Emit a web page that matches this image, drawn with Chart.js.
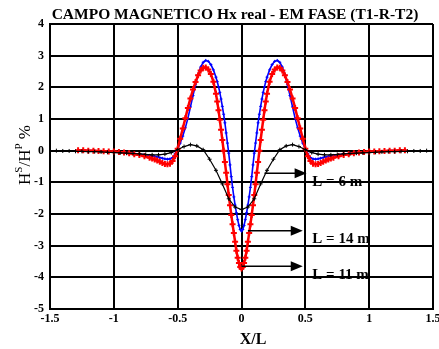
<!DOCTYPE html>
<html>
<head>
<meta charset="utf-8">
<script src="https://cdn.jsdelivr.net/npm/chart.js@4.4.0/dist/chart.umd.min.js"></script>
<style>
html,body{margin:0;padding:0;background:#fff;}
canvas{display:block;}
</style>
</head>
<body>
<canvas id="canvas" width="439" height="349"></canvas>
<script>
// x/L positions shared by the L = 14 m and L = 11 m curves
const xFine = [
  -1.28,-1.24,-1.20,-1.16,-1.12,-1.08,-1.04,-1.00,-0.96,-0.92,-0.88,-0.84,-0.80,-0.76,-0.72,
  -0.70,-0.68,-0.66,-0.64,-0.62,-0.60,-0.58,-0.56,-0.54,-0.52,-0.50,-0.48,-0.46,-0.44,-0.42,
  -0.40,-0.38,-0.36,-0.34,-0.32,-0.30,-0.28,-0.26,-0.24,-0.22,-0.20,
  -0.19,-0.18,-0.17,-0.16,-0.15,-0.14,-0.13,-0.12,-0.11,-0.10,-0.09,-0.08,-0.07,-0.06,-0.05,-0.04,-0.03,-0.02,-0.01,
  0,
  0.01,0.02,0.03,0.04,0.05,0.06,0.07,0.08,0.09,0.10,0.11,0.12,0.13,0.14,0.15,0.16,0.17,0.18,0.19,
  0.20,0.22,0.24,0.26,0.28,0.30,0.32,0.34,0.36,0.38,0.40,0.42,0.44,0.46,0.48,0.50,
  0.52,0.54,0.56,0.58,0.60,0.62,0.64,0.66,0.68,0.70,
  0.72,0.76,0.80,0.84,0.88,0.92,0.96,1.00,1.04,1.08,1.12,1.16,1.20,1.24,1.28
];

// L = 11 m (red)
const hsL11 = [
  0.01,0.01,0.00,0.00,-0.01,-0.02,-0.03,-0.03,-0.04,-0.06,-0.08,-0.11,-0.14,-0.18,-0.22,
  -0.25,-0.28,-0.31,-0.35,-0.39,-0.42,-0.43,-0.41,-0.33,-0.18,0.06,0.38,0.70,1.02,1.35,
  1.65,1.93,2.17,2.38,2.53,2.62,2.63,2.56,2.42,2.18,1.80,
  1.55,1.28,0.98,0.66,0.34,0.00,-0.36,-0.70,-1.06,-1.40,-1.72,-2.03,-2.32,-2.60,-2.88,-3.16,-3.38,-3.55,-3.67,
  -3.72,
  -3.67,-3.55,-3.38,-3.16,-2.88,-2.60,-2.32,-2.03,-1.72,-1.40,-1.06,-0.70,-0.36,0.00,0.34,0.66,0.98,1.28,1.55,
  1.80,2.18,2.42,2.56,2.63,2.62,2.53,2.38,2.17,1.93,1.65,1.35,1.02,0.70,0.38,0.06,
  -0.18,-0.33,-0.41,-0.43,-0.42,-0.39,-0.35,-0.31,-0.28,-0.25,
  -0.22,-0.18,-0.14,-0.11,-0.08,-0.06,-0.04,-0.03,-0.03,-0.02,-0.01,0.00,0.00,0.01,0.01
];

// L = 14 m (blue)
const hsL14 = [
  0.00,0.00,0.00,0.00,-0.01,-0.01,-0.02,-0.03,-0.04,-0.05,-0.07,-0.09,-0.11,-0.13,-0.15,
  -0.17,-0.18,-0.20,-0.22,-0.24,-0.26,-0.27,-0.26,-0.22,-0.10,0.05,0.24,0.46,0.72,1.02,
  1.38,1.74,2.08,2.40,2.64,2.79,2.85,2.82,2.72,2.55,2.32,
  2.18,2.02,1.84,1.63,1.40,1.15,0.88,0.56,0.24,-0.08,-0.45,-0.82,-1.16,-1.46,-1.72,-1.96,-2.18,-2.36,-2.49,
  -2.54,
  -2.49,-2.36,-2.18,-1.96,-1.72,-1.46,-1.16,-0.82,-0.45,-0.08,0.24,0.56,0.88,1.15,1.40,1.63,1.84,2.02,2.18,
  2.32,2.55,2.72,2.82,2.85,2.79,2.64,2.40,2.08,1.74,1.38,1.02,0.72,0.46,0.24,0.05,
  -0.10,-0.22,-0.26,-0.27,-0.26,-0.24,-0.22,-0.20,-0.18,-0.17,
  -0.15,-0.13,-0.11,-0.09,-0.07,-0.05,-0.04,-0.03,-0.02,-0.01,-0.01,0.00,0.00,0.00,0.00
];

// L = 6 m (black)
const xCoarse = [
  -1.50,-1.45,-1.40,-1.35,-1.30,-1.25,-1.20,-1.15,-1.10,-1.05,-1.00,-0.95,-0.90,-0.85,-0.80,
  -0.75,-0.70,-0.65,-0.60,-0.55,-0.50,-0.45,-0.40,-0.35,-0.30,-0.25,-0.20,-0.15,-0.10,-0.05,
  0,
  0.05,0.10,0.15,0.20,0.25,0.30,0.35,0.40,0.45,0.50,0.55,0.60,0.65,0.70,0.75,
  0.80,0.85,0.90,0.95,1.00,1.05,1.10,1.15,1.20,1.25,1.30,1.35,1.40,1.45,1.50
];
const hsL6 = [
  0.00,0.00,-0.01,-0.01,-0.02,-0.02,-0.03,-0.03,-0.04,-0.05,-0.06,-0.07,-0.08,-0.09,-0.10,
  -0.12,-0.13,-0.13,-0.11,-0.06,0.03,0.13,0.19,0.15,0.03,-0.27,-0.62,-1.05,-1.52,-1.78,
  -1.86,
  -1.78,-1.52,-1.05,-0.62,-0.27,0.03,0.15,0.19,0.13,0.03,-0.06,-0.11,-0.13,-0.13,-0.12,
  -0.10,-0.09,-0.08,-0.07,-0.06,-0.05,-0.04,-0.03,-0.03,-0.02,-0.02,-0.01,-0.01,0.00,0.00
];

const xTicks = [-1.5, -1, -0.5, 0, 0.5, 1, 1.5];
const yTicks = [4, 3, 2, 1, 0, -1, -2, -3, -4, -5];

const chartTitle = 'CAMPO MAGNETICO Hx real - EM FASE (T1-R-T2)';
const xTitle = 'X/L';
const yTitleParts = [['H', false], ['S', true], ['/H', false], ['P', true], [' %', false]];

// arrows pointing from each curve to its label (data units)
const labelArrows = [
  {text: 'L = 6 m',  x0: 0.18, x1: 0.51, y: -0.71, tx: 0.555, ty: -0.98},
  {text: 'L = 14 m', x0: 0.05, x1: 0.48, y: -2.53, tx: 0.555, ty: -2.80},
  {text: 'L = 11 m', x0: 0.00, x1: 0.48, y: -3.65, tx: 0.555, ty: -3.93}
];

const SERIF = '"Liberation Serif", "DejaVu Serif", serif';

function pts(xs, ys) {
  return xs.map((x, i) => ({x: x, y: ys[i]}));
}

const textPlugin = {
  id: 'textPlugin',
  afterDraw(chart) {
    const ctx = chart.ctx;
    const xs = chart.scales.x, ys = chart.scales.y;
    ctx.save();
    ctx.fillStyle = '#000';
    ctx.strokeStyle = '#000';

    ctx.textAlign = 'center';
    ctx.textBaseline = 'middle';
    ctx.font = 'bold 15.5px ' + SERIF;
    ctx.fillText(chartTitle, 235, 15);
    ctx.font = 'bold 16px ' + SERIF;
    ctx.fillText(xTitle, 253, 340);

    // y title, rotated, with superscripts
    ctx.save();
    ctx.translate(24, 155);
    ctx.rotate(-Math.PI / 2);
    ctx.textAlign = 'left';
    ctx.textBaseline = 'alphabetic';
    let total = 0;
    yTitleParts.forEach(p => {
      ctx.font = (p[1] ? '11px ' : '17px ') + SERIF;
      total += ctx.measureText(p[0]).width;
    });
    let cx = -total / 2;
    yTitleParts.forEach(p => {
      ctx.font = (p[1] ? '11px ' : '17px ') + SERIF;
      ctx.fillText(p[0], cx, p[1] ? -2 : 6);
      cx += ctx.measureText(p[0]).width;
    });
    ctx.restore();

    // arrows + labels
    ctx.lineWidth = 1.5;
    labelArrows.forEach(a => {
      const px0 = xs.getPixelForValue(a.x0);
      const px1 = xs.getPixelForValue(a.x1);
      const py = ys.getPixelForValue(a.y);
      ctx.beginPath();
      ctx.moveTo(px0, py);
      ctx.lineTo(px1 - 10, py);
      ctx.stroke();
      ctx.beginPath();
      ctx.moveTo(px1, py);
      ctx.lineTo(px1 - 12, py - 5);
      ctx.lineTo(px1 - 12, py + 5);
      ctx.closePath();
      ctx.fill();
      ctx.font = 'bold 15px ' + SERIF;
      ctx.textAlign = 'left';
      ctx.textBaseline = 'middle';
      ctx.fillText(a.text, xs.getPixelForValue(a.tx), ys.getPixelForValue(a.ty));
    });
    ctx.restore();
  }
};

const data = {
  datasets: [
    {
      label: 'L = 6 m',
      data: pts(xCoarse, hsL6),
      borderColor: '#000',
      backgroundColor: '#000',
      borderWidth: 1.2,
      pointStyle: 'cross',
      pointRadius: 2,
      pointBorderWidth: 1,
      order: 1
    },
    {
      label: 'L = 11 m',
      data: pts(xFine, hsL11),
      borderColor: '#ff0000',
      backgroundColor: '#ff0000',
      borderWidth: 2.5,
      pointStyle: 'cross',
      pointRadius: 3,
      pointBorderWidth: 2,
      order: 2
    },
    {
      label: 'L = 14 m',
      data: pts(xFine, hsL14),
      borderColor: '#0000ff',
      backgroundColor: '#0000ff',
      borderWidth: 1.6,
      pointStyle: 'cross',
      pointRadius: 1.5,
      pointBorderWidth: 1,
      order: 3
    }
  ]
};

const tickFont = {family: SERIF, size: 12, weight: 'bold'};

const config = {
  type: 'line',
  data: data,
  options: {
    responsive: false,
    animation: false,
    layout: {padding: {top: 24, right: 6, left: 0, bottom: 0}},
    plugins: {legend: {display: false}, tooltip: {enabled: false}, title: {display: false}},
    scales: {
      x: {
        type: 'linear',
        min: -1.5,
        max: 1.5,
        afterBuildTicks: s => { s.ticks = xTicks.map(v => ({value: v})); },
        afterFit: s => { s.height = 40; s.paddingLeft = 0; s.paddingRight = 0; },
        ticks: {color: '#000', font: tickFont, padding: 3, maxRotation: 0, autoSkip: false,
                callback: v => String(v)},
        grid: {color: '#000', lineWidth: 2, drawTicks: false},
        border: {color: '#000', width: 2}
      },
      y: {
        type: 'linear',
        min: -5,
        max: 4,
        afterBuildTicks: s => { s.ticks = yTicks.map(v => ({value: v})); },
        afterFit: s => { s.width = 50; s.paddingTop = 0; s.paddingBottom = 0; },
        ticks: {color: '#000', font: tickFont, padding: 6, autoSkip: false,
                callback: v => String(v)},
        grid: {color: '#000', lineWidth: 2, drawTicks: false},
        border: {color: '#000', width: 2}
      }
    }
  },
  plugins: [textPlugin]
};

const canvas = document.getElementById('canvas');
const chart = new Chart(canvas, config);
</script>
</body>
</html>
